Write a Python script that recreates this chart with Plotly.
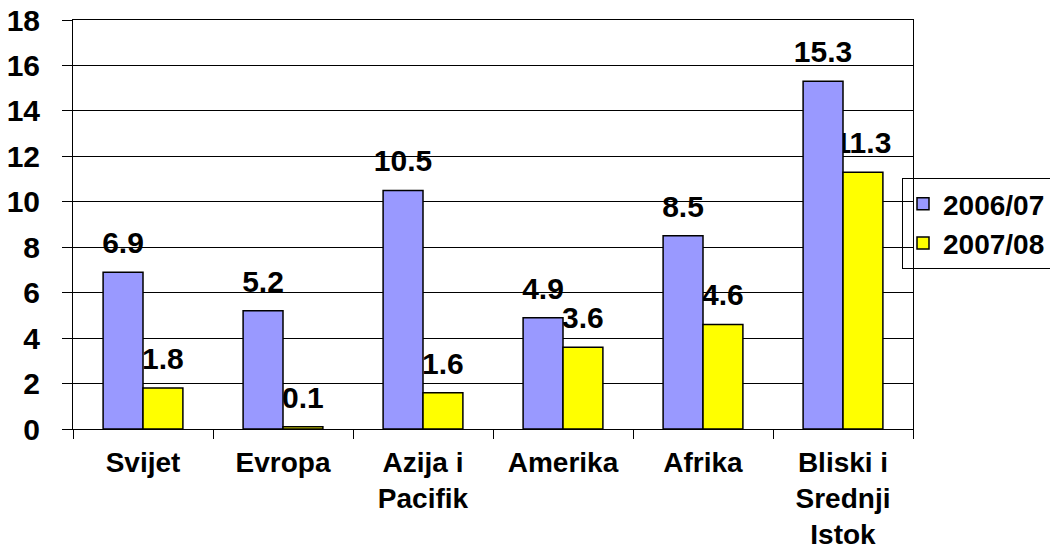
import plotly.graph_objects as go

categories = ["Svijet", "Evropa", "Azija i<br>Pacifik", "Amerika", "Afrika", "Bliski i<br>Srednji<br>Istok"]
series_names = ["2006/07", "2007/08"]
values_2006 = [6.9, 5.2, 10.5, 4.9, 8.5, 15.3]
values_2007 = [1.8, 0.1, 1.6, 3.6, 4.6, 11.3]
colors = ["#9999FF", "#FFFF00"]
y_ticks = [0, 2, 4, 6, 8, 10, 12, 14, 16, 18]

FONT = "Arial, Liberation Sans, sans-serif"

L, R, T, B = 73, 137, 20, 125
PW, PH = 1050 - L - R, 554 - T - B

fig = go.Figure()

# labels on the main subplot (drawn beneath the bars, which live on an overlay axis)
for name, vals in zip(series_names, [values_2006, values_2007]):
    fig.add_trace(go.Scatter(
        x=categories, y=vals, mode="markers+text",
        text=[f"{v:.1f}" for v in vals], textposition="top center",
        textfont=dict(family=FONT, size=30, color="black", weight="bold"),
        marker=dict(size=17, color="rgba(0,0,0,0)"),
        offsetgroup=name, showlegend=False, hoverinfo="skip",
        xaxis="x", yaxis="y",
    ))

for name, vals, col in zip(series_names, [values_2006, values_2007], colors):
    fig.add_trace(go.Bar(
        x=categories, y=vals, name=name, offsetgroup=name, legendgroup=name,
        marker=dict(color=col, line=dict(color="black", width=1.5)),
        xaxis="x", yaxis="y2",
    ))

fig.update_layout(
    width=1050, height=554,
    margin=dict(l=L, r=R, t=T, b=B, autoexpand=False),
    paper_bgcolor="white", plot_bgcolor="white",
    barmode="group", bargap=0.43, bargroupgap=0,
    scattermode="group", scattergap=0.43,
    font=dict(family=FONT, size=29, color="black"),
    xaxis=dict(
        type="category", tickson="boundaries", ticks="outside", ticklen=9,
        tickcolor="black", tickwidth=1, showline=True, linecolor="black",
        linewidth=1, mirror=True, showgrid=False, automargin=False,
        tickfont=dict(family=FONT, size=28, color="black", weight="bold"),
        ticklabelstandoff=8,
    ),
    yaxis=dict(
        range=[0, 18], tickvals=y_ticks, ticks="outside", ticklen=10,
        tickcolor="black", tickwidth=1, showline=True, linecolor="black",
        linewidth=1, mirror=True, showgrid=True, gridcolor="black",
        gridwidth=1, zeroline=False, automargin=False,
        tickfont=dict(family=FONT, size=30, color="black", weight="bold"),
        ticklabelstandoff=16,
    ),
    yaxis2=dict(
        range=[0, 18], overlaying="y", visible=False, showgrid=False,
        automargin=False,
    ),
    legend=dict(
        x=(902 - L) / PW, y=(554 - B - 178) / PH, xanchor="left", yanchor="top",
        bordercolor="black", borderwidth=1, bgcolor="rgba(0,0,0,0)",
        font=dict(family=FONT, size=28, color="black", weight="bold"),
        traceorder="normal", tracegroupgap=6,
    ),
)

fig.write_html("out.html")
